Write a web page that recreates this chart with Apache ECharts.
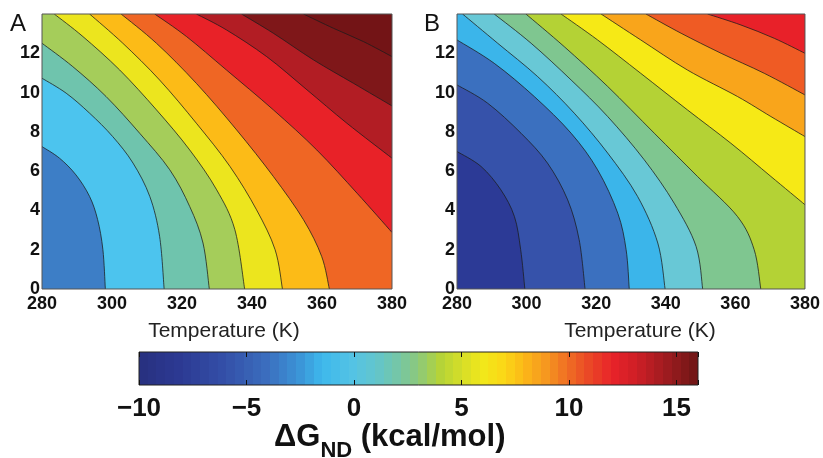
<!DOCTYPE html>
<html>
<head>
<meta charset="utf-8">
<script src="https://cdn.jsdelivr.net/npm/echarts@6/dist/echarts.min.js"></script>
<style>
  html, body { margin: 0; padding: 0; background: #fff; }
  #chart { width: 823px; height: 458px; }
</style>
</head>
<body>
<div id="chart"></div>
<script>
// contour lines, as [temperature (K), pH], lowest level first.
// each line runs from the left/top edge down to the bottom/right edge.
const linesA = [
  [[280, 7.25], [285.0, 6.66], [289.7, 5.81], [293.6, 4.71], [295.9, 3.53], [297.4, 2.0], [298.1, 0]],
  [[280, 10.73], [286.9, 9.97], [293.6, 8.95], [300.2, 7.76], [306.0, 6.41], [310.8, 4.71], [313.6, 2.68], [314.9, 0]],
  [[280, 12.51], [288.8, 11.32], [298.3, 9.80], [307.9, 7.93], [316.5, 6.07], [322.2, 4.20], [326.0, 2.34], [327.8, 0]],
  [[283.5, 14], [291.7, 12.85], [302.2, 11.15], [312.7, 9.12], [322.2, 7.08], [329.9, 5.05], [335.1, 3.02], [337.9, 0]],
  [[293.6, 14], [303.1, 12.51], [313.6, 10.64], [324.1, 8.44], [333.7, 6.24], [341.3, 4.03], [346.6, 2.0], [348.7, 0]],
  [[302.6, 14], [312.7, 12.51], [324.1, 10.47], [335.6, 8.10], [346.1, 5.73], [354.7, 3.53], [359.9, 1.66], [362.1, 0]],
  [[312.2, 14], [321.3, 12.85], [332.7, 11.15], [346.1, 9.12], [358.5, 7.08], [370.0, 4.88], [380, 2.88]],
  [[324.1, 14], [332.7, 13.19], [344.2, 11.83], [355.7, 10.14], [367.1, 8.44], [380, 6.66]],
  [[337.0, 14], [346.1, 13.02], [357.6, 11.66], [369.0, 10.47], [380, 9.32]],
  [[354.7, 14], [363.3, 13.27], [371.9, 12.59], [380, 11.83]]
];

const linesB = [
  [[280, 7.0], [286.9, 6.24], [292.6, 5.05], [296.5, 3.69], [298.3, 2.0], [299.5, 0]],
  [[280, 10.39], [288.8, 9.46], [298.4, 7.93], [306.0, 6.41], [311.8, 4.54], [315.1, 2.51], [316.8, 0]],
  [[280, 12.68], [290.7, 11.49], [302.2, 9.80], [312.8, 7.93], [320.4, 6.07], [326.2, 3.86], [328.6, 2.0], [329.5, 0]],
  [[281.6, 14], [291.7, 12.51], [303.2, 10.81], [313.7, 8.95], [323.3, 6.92], [331.9, 4.71], [337.7, 2.34], [339.8, 0]],
  [[290.7, 14], [301.3, 12.51], [312.8, 10.64], [323.3, 8.78], [333.8, 6.58], [342.4, 4.37], [348.7, 2.17], [350.6, 0]],
  [[299.8, 14], [310.8, 12.34], [323.3, 10.31], [336.7, 7.93], [349.1, 5.73], [360.6, 3.69], [365.4, 2.0], [367.3, 0]],
  [[309.9, 14], [320.4, 12.68], [332.8, 10.98], [346.2, 9.12], [358.7, 7.42], [370.2, 5.73], [380, 4.29]],
  [[321.4, 14], [332.8, 12.68], [346.2, 11.15], [360.6, 9.80], [370.2, 8.78], [380, 7.76]],
  [[334.3, 14], [344.4, 13.02], [355.9, 12.0], [368.3, 10.98], [380, 9.88]],
  [[352.0, 14], [361.6, 13.44], [371.2, 12.76], [380, 12.0]]
];

// fill colour of each band, lowest band first
const fillA = ['#3d7ec6', '#4cc4ee', '#6fc4ad', '#a5cd5a', '#ece51e', '#fcbb17',
               '#ef6624', '#e82228', '#b21d24', '#7f1719', '#731416'];
const fillB = ['#2c3a96', '#3652aa', '#3b70bf', '#3bb5ea', '#68c8d6', '#7fc690',
               '#b4d235', '#f6e916', '#f9a51b', '#ef5b24', '#e82129'];

// colour bar: kcal/mol -> colour
const cbarStops = [
  [-10, '#28307f'], [-8, '#2c3a94'], [-6, '#3450a8'], [-4, '#3b6fbf'], [-2.5, '#3b95d8'],
  [-1.5, '#3db8ec'], [0, '#55c3e4'], [1, '#62c5cc'], [2, '#74c6a8'], [3, '#8cc97c'],
  [4, '#b4d338'], [5, '#d5de28'], [6, '#f2e81a'], [7, '#fbd616'], [8, '#fbb518'],
  [9, '#f59420'], [10, '#ef6b24'], [11, '#ea4526'], [12, '#e8232a'], [13, '#d21f26'],
  [14, '#b01c22'], [15, '#8d1a1c'], [16, '#6e1515']
];

const tempRange = [280, 380];
const phRange = [0, 14];
const cbarRange = [-10, 16];

const FONT = '"Liberation Sans", Arial, Helvetica, sans-serif';

function hexRgb(h) {
  return [parseInt(h.slice(1, 3), 16), parseInt(h.slice(3, 5), 16), parseInt(h.slice(5, 7), 16)];
}
function cbarColor(v) {
  for (let i = 0; i < cbarStops.length - 1; i++) {
    const a = cbarStops[i], b = cbarStops[i + 1];
    if (v <= b[0]) {
      const t = (v - a[0]) / (b[0] - a[0]);
      const ca = hexRgb(a[1]), cb = hexRgb(b[1]);
      const c = ca.map((x, j) => Math.round(x + (cb[j] - x) * t));
      return 'rgb(' + c.join(',') + ')';
    }
  }
  return cbarStops[cbarStops.length - 1][1];
}

// stepped gradient like a 64 entry colormap
function cbarGradient() {
  const n = 64, stops = [];
  const span = cbarRange[1] - cbarRange[0];
  for (let i = 0; i < n; i++) {
    const c = cbarColor(cbarRange[0] + (i + 0.5) * span / n);
    stops.push({ offset: i / n, color: c }, { offset: (i + 1) / n, color: c });
  }
  return new echarts.graphic.LinearGradient(0, 0, 1, 0, stops);
}

// smooth path through pixel points (catmull-rom as cubic beziers)
function curvePath(pts) {
  let d = 'M' + pts[0][0] + ' ' + pts[0][1];
  for (let i = 0; i < pts.length - 1; i++) {
    const p0 = pts[Math.max(i - 1, 0)], p1 = pts[i], p2 = pts[i + 1];
    const p3 = pts[Math.min(i + 2, pts.length - 1)];
    const c1x = p1[0] + (p2[0] - p0[0]) / 6, c1y = p1[1] + (p2[1] - p0[1]) / 6;
    const c2x = p2[0] - (p3[0] - p1[0]) / 6, c2y = p2[1] - (p3[1] - p1[1]) / 6;
    d += ' C' + c1x + ' ' + c1y + ' ' + c2x + ' ' + c2y + ' ' + p2[0] + ' ' + p2[1];
  }
  return d;
}

function contourSeries(lines, fills, idx) {
  return {
    type: 'custom',
    xAxisIndex: idx,
    yAxisIndex: idx,
    clip: true,
    silent: true,
    data: fills.map((c, i) => [i]),
    renderItem: (params, api) => {
      const k = params.dataIndex;
      const tl = api.coord([tempRange[0], phRange[1]]);
      const br = api.coord([tempRange[1], phRange[0]]);
      if (k === 0) {
        return {
          type: 'rect',
          shape: { x: tl[0], y: tl[1], width: br[0] - tl[0], height: br[1] - tl[1] },
          style: { fill: fills[0] }
        };
      }
      const line = lines[k - 1];
      const curve = curvePath(line.map(p => api.coord(p)));
      const first = line[0], last = line[line.length - 1];
      // close the band around the upper right corner
      const corners = [];
      if (last[1] === phRange[0]) corners.push([tempRange[1], phRange[0]]);
      corners.push([tempRange[1], phRange[1]]);
      if (first[0] === tempRange[0] && first[1] < phRange[1]) corners.push([tempRange[0], phRange[1]]);
      const fillPath = curve + corners.map(p => {
        const c = api.coord(p);
        return ' L' + c[0] + ' ' + c[1];
      }).join('') + ' Z';
      return {
        type: 'group',
        children: [
          { type: 'path', shape: { pathData: fillPath }, style: { fill: fills[k] } },
          { type: 'path', shape: { pathData: curve }, style: { fill: 'none', stroke: '#1c1c1c', lineWidth: 0.9, opacity: 0.85 } }
        ]
      };
    }
  };
}

const tickLabel = { fontSize: 18, fontWeight: 'bold', color: '#111', fontFamily: FONT };

function tempAxis(idx, shift) {
  return {
    gridIndex: idx, type: 'value', min: tempRange[0], max: tempRange[1], interval: 20,
    axisLine: { show: false }, axisTick: { show: false }, splitLine: { show: false },
    axisLabel: Object.assign({ margin: 6 }, tickLabel),
    name: 'Temperature (K)', nameLocation: 'middle', nameGap: 32,
    nameTextStyle: { fontSize: 21, color: '#222', fontFamily: FONT, padding: [0, 0, 0, shift] }
  };
}
function phAxis(idx) {
  return {
    gridIndex: idx, type: 'value', min: phRange[0], max: phRange[1], interval: 2,
    axisLine: { show: false }, axisTick: { show: false }, splitLine: { show: false },
    axisLabel: Object.assign({ margin: 2, formatter: v => (v >= 14 ? '' : String(v)) }, tickLabel)
  };
}

const chart = echarts.init(document.getElementById('chart'));

chart.setOption({
  animation: false,
  backgroundColor: '#fff',
  grid: [
    { left: 42, top: 14, width: 350, height: 275, show: true, z: 5, borderColor: '#555', borderWidth: 1, backgroundColor: 'transparent' },
    { left: 457, top: 14, width: 348, height: 275, show: true, z: 5, borderColor: '#555', borderWidth: 1, backgroundColor: 'transparent' },
    { left: 139, top: 352, width: 559, height: 33, show: true, z: 5, borderColor: '#222', borderWidth: 1, backgroundColor: 'transparent' }
  ],
  xAxis: [
    tempAxis(0, 14),
    tempAxis(1, 18),
    {
      gridIndex: 2, type: 'value', min: cbarRange[0], max: cbarRange[1], interval: 5, z: 6,
      axisLine: { show: false }, splitLine: { show: false },
      axisTick: { inside: true, length: 5, lineStyle: { color: '#111' } },
      axisLabel: {
        margin: 11, fontSize: 26, fontWeight: 'bold', color: '#111', fontFamily: FONT,
        formatter: v => (v % 5 !== 0 ? '' : v < 0 ? '\u2212' + Math.abs(v) : String(v))
      }
    },
    {
      gridIndex: 2, type: 'value', position: 'top', min: cbarRange[0], max: cbarRange[1], interval: 5, z: 6,
      axisLine: { show: false }, splitLine: { show: false }, axisLabel: { show: false },
      axisTick: { inside: true, length: 5, lineStyle: { color: '#111' } }
    }
  ],
  yAxis: [
    phAxis(0),
    phAxis(1),
    { gridIndex: 2, type: 'value', min: 0, max: 1, show: false }
  ],
  series: [
    contourSeries(linesA, fillA, 0),
    contourSeries(linesB, fillB, 1),
    {
      type: 'custom', xAxisIndex: 2, yAxisIndex: 2, silent: true,
      data: [cbarRange],
      renderItem: (params, api) => {
        const a = api.coord([api.value(0), 1]);
        const b = api.coord([api.value(1), 0]);
        return {
          type: 'rect',
          shape: { x: a[0], y: a[1], width: b[0] - a[0], height: b[1] - a[1] },
          style: { fill: cbarGradient() }
        };
      }
    }
  ],
  graphic: [
    { type: 'text', left: 10, top: 12, style: { text: 'A', fontSize: 24, fill: '#111', fontFamily: FONT } },
    { type: 'text', left: 424, top: 12, style: { text: 'B', fontSize: 24, fill: '#111', fontFamily: FONT } },
    {
      type: 'text', left: 274, top: 422,
      style: {
        text: '{a|\u0394G}{b|ND}{a| (kcal/mol)}',
        fill: '#111',
        rich: {
          a: { fontSize: 31, fontWeight: 'bold', fontFamily: FONT, verticalAlign: 'bottom', padding: [0, 0, 9, 0] },
          b: { fontSize: 22, fontWeight: 'bold', fontFamily: FONT, verticalAlign: 'bottom' }
        }
      }
    }
  ]
});
</script>
</body>
</html>
